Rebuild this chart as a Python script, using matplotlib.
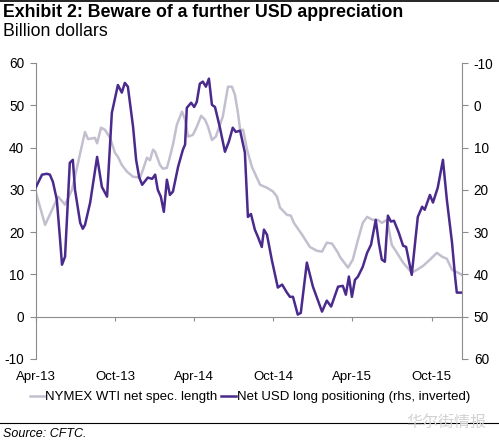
import matplotlib
matplotlib.use("Agg")
import matplotlib.pyplot as plt
import pandas as pd
from matplotlib.lines import Line2D

# NYMEX WTI net speculative length (lhs, billion USD)
wti_dates = ["2013-04-01","2013-04-22","2013-05-22","2013-06-07","2013-06-23","2013-07-23","2013-07-30",
             "2013-08-15","2013-08-20","2013-08-29","2013-09-07","2013-09-19","2013-09-30","2013-10-07",
             "2013-10-16","2013-10-28","2013-11-11","2013-11-27","2013-12-04","2013-12-13","2013-12-20",
             "2013-12-27","2014-01-01","2014-01-12","2014-01-19","2014-01-28","2014-02-04","2014-02-11",
             "2014-02-20","2014-03-04","2014-03-11","2014-03-18","2014-03-29","2014-04-07","2014-04-17",
             "2014-04-26","2014-05-03","2014-05-12","2014-05-21","2014-05-28","2014-06-06","2014-06-18",
             "2014-06-27","2014-07-04","2014-07-11","2014-07-16","2014-07-23","2014-08-01","2014-08-12",
             "2014-08-31","2014-09-16","2014-09-30","2014-10-09","2014-10-16","2014-11-01","2014-11-10",
             "2014-11-17","2014-12-06","2014-12-24","2015-01-09","2015-01-21","2015-02-01","2015-02-13",
             "2015-02-27","2015-03-03","2015-03-22","2015-04-02","2015-04-14","2015-04-25","2015-05-05",
             "2015-05-18","2015-05-30","2015-06-08","2015-06-20","2015-07-01","2015-07-13","2015-07-27",
             "2015-08-16","2015-08-28","2015-09-11","2015-09-27","2015-10-13","2015-10-25","2015-11-05",
             "2015-11-17","2015-12-01","2015-12-10"]
wti_values = [29.3,21.7,28.4,26.5,30.0,43.7,42.0,
              42.3,41.0,44.7,44.2,42.3,38.8,37.8,
              35.9,34.3,33.1,32.9,34.8,37.6,37.0,
              39.5,39.0,35.9,35.0,35.2,37.8,40.7,
              45.4,48.5,46.6,42.6,43.0,44.9,47.5,
              46.6,44.9,41.8,42.6,44.7,47.3,54.4,
              54.4,52.5,48.2,44.2,44.2,39.5,35.5,
              31.2,30.5,29.6,28.4,25.8,24.1,23.9,
              22.2,19.4,16.5,15.6,15.4,17.5,17.3,
              15.1,14.2,11.6,13.5,18.2,22.2,23.6,
              22.9,22.9,22.2,22.9,17.0,15.1,12.8,
              10.4,11.1,12.0,13.5,15.1,14.2,13.7,
              11.1,10.4,9.9]

# Net USD long positioning (rhs, inverted, billion USD)
usd_dates = ["2013-04-01","2013-04-15","2013-04-26","2013-05-03","2013-05-10","2013-05-19","2013-05-26",
             "2013-05-31","2013-06-07","2013-06-18","2013-06-25","2013-06-30","2013-07-12","2013-07-18",
             "2013-07-23","2013-08-04","2013-08-20","2013-08-31","2013-09-12","2013-09-23","2013-10-07",
             "2013-10-16","2013-10-23","2013-10-30","2013-11-11","2013-11-18","2013-11-25","2013-12-02",
             "2013-12-15","2013-12-25","2014-01-01","2014-01-07","2014-01-14","2014-01-21","2014-01-28",
             "2014-02-04","2014-02-11","2014-02-23","2014-03-06","2014-03-11","2014-03-15","2014-03-25",
             "2014-04-01","2014-04-07","2014-04-14","2014-04-21","2014-04-28","2014-05-05","2014-05-12",
             "2014-05-19","2014-05-30","2014-06-11","2014-06-20","2014-06-29","2014-07-06","2014-07-16",
             "2014-07-27","2014-08-03","2014-08-10","2014-08-19","2014-08-26","2014-09-04","2014-09-09",
             "2014-09-16","2014-09-27","2014-10-11","2014-10-21","2014-11-01","2014-11-08","2014-11-15",
             "2014-11-26","2014-12-03","2014-12-17","2014-12-31","2015-01-21","2015-02-01","2015-02-11",
             "2015-02-27","2015-03-10","2015-03-17","2015-03-24","2015-03-31","2015-04-07","2015-04-14",
             "2015-04-25","2015-05-05","2015-05-14","2015-05-25","2015-06-01","2015-06-08","2015-06-15",
             "2015-06-22","2015-06-29","2015-07-06","2015-07-17","2015-07-27","2015-08-03","2015-08-16",
             "2015-08-30","2015-09-09","2015-09-15","2015-09-27","2015-10-04","2015-10-15","2015-10-27",
             "2015-11-05","2015-11-17","2015-11-24","2015-11-28","2015-12-08"]
usd_values = [19.3,16.4,16.2,16.4,18.1,22.3,31.1,
              37.7,35.8,13.6,12.9,20.0,27.8,29.2,
              28.3,23.0,12.2,19.3,21.6,1.8,-4.8,
              -3.0,-5.3,-4.4,5.1,12.9,17.0,18.8,
              17.1,17.4,16.4,20.0,21.6,25.2,17.6,
              21.2,20.4,14.5,10.5,9.3,0.6,-0.6,
              0.4,-0.8,-5.1,-5.6,-4.4,-6.3,-0.1,
              0.4,5.1,11.0,8.6,5.3,6.3,6.0,
              11.2,26.4,25.7,29.4,31.1,33.5,29.4,
              30.6,36.5,43.1,42.4,44.3,45.3,45.3,
              49.5,49.1,37.2,42.9,48.8,46.2,47.6,
              42.9,42.7,44.8,40.5,45.3,41.3,40.5,
              38.2,34.9,33.0,27.1,32.5,36.5,37.0,
              26.1,27.5,27.3,30.1,33.2,33.5,40.1,
              26.4,24.0,24.7,21.2,23.0,19.5,12.9,
              22.3,32.5,40.5,44.3,44.3]

left_ticks = [-10, 0, 10, 20, 30, 40, 50, 60]
right_ticks = [-10, 0, 10, 20, 30, 40, 50, 60]
x_tick_dates = ["2013-04-01","2013-10-01","2014-04-01","2014-10-01","2015-04-01","2015-10-01"]
x_tick_labels = ["Apr-13","Oct-13","Apr-14","Oct-14","Apr-15","Oct-15"]

plt.rcParams['font.family'] = ['Liberation Sans', 'DejaVu Sans']
plt.rcParams['axes.unicode_minus'] = False

GRAY_AX = "#8c8c8c"
WTI_C = "#c3bfcf"
USD_C = "#4a2a8c"

fig = plt.figure(figsize=(4.99, 4.43), dpi=100)
ax = fig.add_axes([36/499, 1-359/443, (462-36)/499, (359-63)/443])
ax2 = ax.twinx()

wd = pd.to_datetime(wti_dates)
ud = pd.to_datetime(usd_dates)
ax.plot(wd, wti_values, color=WTI_C, lw=1.8, solid_joinstyle='round')
ax2.plot(ud, usd_values, color=USD_C, lw=1.8, solid_joinstyle='round')

ax.set_ylim(-10, 60)
ax2.set_ylim(60, -10)
ax.set_yticks(left_ticks)
ax2.set_yticks(right_ticks)
ax.set_xlim(pd.Timestamp("2013-04-01"), pd.Timestamp("2015-12-10"))
ax.set_xticks(pd.to_datetime(x_tick_dates))
ax.set_xticklabels(x_tick_labels)

for a in (ax, ax2):
    a.spines['top'].set_visible(False)
    a.spines['left'].set_color(GRAY_AX)
    a.spines['right'].set_color(GRAY_AX)
    a.spines['bottom'].set_visible(False)
    a.patch.set_visible(False)

ax.spines['bottom'].set_visible(True)
ax.spines['bottom'].set_position(('data', 0))
ax.spines['bottom'].set_color(GRAY_AX)
ax2.spines['left'].set_visible(False)
ax.spines['right'].set_visible(False)

ax.tick_params(axis='x', direction='out', length=3, color=GRAY_AX, labelsize=9.5, pad=36)
ax.tick_params(axis='y', direction='out', length=4, color=GRAY_AX, labelsize=9.8, pad=4.5)
ax2.tick_params(axis='y', direction='out', length=4, color=GRAY_AX, labelsize=9.8, pad=4.5)

# Title block
fig.text(3/499, 1-12.5/443, "Exhibit 2: Beware of a further USD appreciation", fontsize=12.8,
         fontweight='bold', va='center', ha='left')
fig.text(3/499, 1-32/443, "Billion dollars", fontsize=12.8, va='center', ha='left')
fig.add_artist(Line2D([0, 1], [1-0.8/443, 1-0.8/443], color='black', lw=1.2, transform=fig.transFigure))
fig.add_artist(Line2D([0, 1], [1-422.5/443, 1-422.5/443], color='black', lw=0.8, transform=fig.transFigure))
fig.text(3/499, 1-434/443, "Source: CFTC.", fontsize=9, style='italic', va='center', ha='left')
fig.text(486/499, 1-422/443, "华尔街情报", fontsize=11.5, color="#d2d2d2", va='center', ha='right',
         family=['Noto Sans CJK SC', 'DejaVu Sans'])

# Legend
handles = [Line2D([], [], color=WTI_C, lw=1.8), Line2D([], [], color=USD_C, lw=1.8)]
fig.legend(handles, ["NYMEX WTI net spec. length", "Net USD long positioning (rhs, inverted)"],
           loc='center', bbox_to_anchor=(250/499, 1-397/443), ncol=2, frameon=False,
           fontsize=9.5, handlelength=1.1, handletextpad=0.05, columnspacing=0.3, borderpad=0)

fig.savefig("out.png", dpi=100)
